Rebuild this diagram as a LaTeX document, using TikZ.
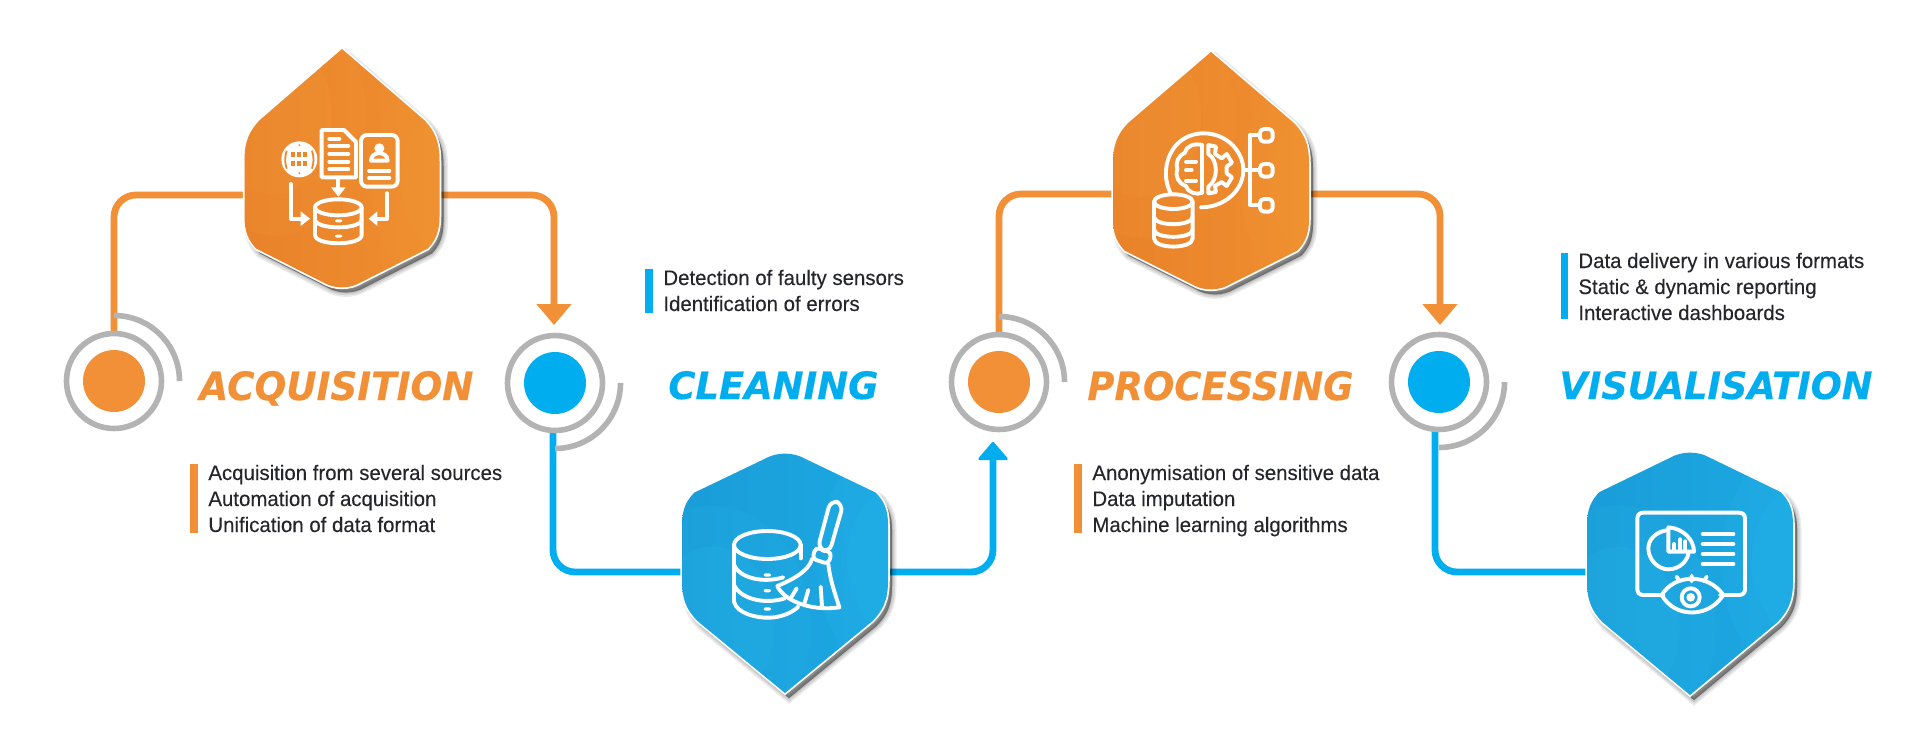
\documentclass[tikz,border=0pt]{standalone}
\usepackage{fontspec}
\usepackage{graphicx}
\setmainfont{Liberation Sans}
\newfontfamily\bodyfont[FakeStretch=0.972,FakeBold=0.15]{Liberation Sans}
\newfontfamily\ttlfont[BoldItalicFeatures={FakeBold=0.35}]{DejaVu Sans}
\usetikzlibrary{arrows.meta}
\definecolor{cor}{HTML}{F29038}
\definecolor{cbl}{HTML}{00AEEF}
\definecolor{cgr}{HTML}{B3B3B3}
\definecolor{ctx}{HTML}{25262B}
\definecolor{hoa}{HTML}{E9822A}
\definecolor{hob}{HTML}{EF8E2F}
\definecolor{hoc}{HTML}{F7A23F}
\definecolor{hba}{HTML}{1A9DD8}
\definecolor{hbb}{HTML}{1CA8E2}
\definecolor{hbc}{HTML}{30C4F5}
\definecolor{holeo}{HTML}{EC872C}
\newlength{\pxu}\setlength{\pxu}{0.5pt}
\def\hexpath{(0,0) -- (.85,.30) .. controls (.95,.345) and (1,.385) .. (1,.47) -- (1,.70) .. controls (1,.765) and (.96,.80) .. (.88,.835) -- (.20,.975) .. controls (.08,1.005) and (-.08,1.005) .. (-.20,.975) -- (-.88,.835) .. controls (-.96,.80) and (-1,.765) .. (-1,.70) -- (-1,.47) .. controls (-1,.385) and (-.95,.345) .. (-.85,.30) -- cycle}
% #1 cx, #2 tip y, #3 half width, #4 signed height, #5 #6 colours, #7 wave colour
\newcommand{\hexa}[7]{%
  \begin{scope}[shift={(#1+4,#2+5)},xscale=#3,yscale=#4]
    \foreach \lw in {9,6,3,1}{\draw[line width=\lw*\pxu,black,draw opacity=.08,fill opacity=.12,fill=black] \hexpath;}
  \end{scope}
  \begin{scope}[shift={(#1,#2)},xscale=#3,yscale=#4]
    \draw[white,line width=3.5*\pxu,fill=white] \hexpath;
    \shade[shading angle=60,left color=#5,right color=#6] \hexpath;
    \begin{scope}
      \clip \hexpath;
      \fill[#7,opacity=.10] (1.15,.55) ellipse [x radius=.85,y radius=.5];
      \fill[#7,opacity=.10] (1.15,.55) ellipse [x radius=.55,y radius=.32];
      \fill[#7,opacity=.10] (-.7,.28) ellipse [x radius=.95,y radius=.5];
      \fill[#7,opacity=.12] (-.7,.28) ellipse [x radius=.6,y radius=.33];
    \end{scope}
  \end{scope}}
\tikzset{
  x=0.5pt,y=-0.5pt,
  connor/.style={draw=cor,line width=3.4pt,rounded corners=11pt},
  connbl/.style={draw=cbl,line width=3.4pt,rounded corners=11pt},
  ring/.style={circle,draw=cgr,line width=2.8pt,minimum size=95*\pxu,inner sep=0pt,fill=white},
  arcline/.style={draw=cgr,line width=2.8pt},
  discor/.style={circle,fill=cor,minimum size=62*\pxu,inner sep=0pt},
  discbl/.style={circle,fill=cbl,minimum size=62*\pxu,inner sep=0pt},
  body/.style={anchor=base west,inner sep=0pt,font=\bodyfont\fontsize{10.5pt}{13pt}\selectfont,text=ctx},
  ttl/.style={anchor=base west,inner sep=0pt},
  barbox/.style={fill=#1,draw=none},
  ic/.style={white,line width=1.95pt,line cap=round,line join=round},
}
\newcommand{\ttltxt}[3]{\resizebox{#1\pxu}{#2\pxu}{\ttlfont\bfseries\itshape #3}}
\begin{document}
\begin{tikzpicture}
\useasboundingbox (0,0) rectangle (1920,728);
\fill[white] (0,0) rectangle (1920,728);
% anchors
\coordinate (h1l) at (260,195); \coordinate (h1r) at (420,195);
\coordinate (h2l) at (700,572); \coordinate (h2r) at (870,572);
\coordinate (h3l) at (1130,194); \coordinate (h3r) at (1290,194);
\coordinate (h4l) at (1610,572);
% connectors
\coordinate (c1top) at (114,340); \coordinate (c2tip) at (554,325);
\coordinate (c2bot) at (553,425); \coordinate (c3tip) at (993,442);
\coordinate (c3top) at (999,340); \coordinate (c4tip) at (1440,325);
\coordinate (c4bot) at (1435,425);
\draw[connor] (c1top) |- (h1l);
\draw[connor,-{Triangle[width=17pt,length=10.5pt]}] (h1r) -| (c2tip);
\draw[connbl] (c2bot) |- (h2l);
\draw[connbl,-{Triangle[width=16pt,length=9.5pt,round,line width=1.4pt]}] (h2r) -| (c3tip);
\draw[connor] (c3top) |- (h3l);
\draw[connor,-{Triangle[width=17pt,length=10.5pt]}] (h3r) -| (c4tip);
\draw[connbl] (c4bot) |- (h4l);
% hexagons
\hexa{342}{49}{97.5}{239}{hoa}{hob}{hoc}
\hexa{785}{693}{103}{-240}{hba}{hbb}{hbc}
\hexa{1211}{52}{98}{238}{hoa}{hob}{hoc}
\hexa{1690}{695}{103}{-243}{hba}{hbb}{hbc}
% rings and discs
\coordinate (a1) at (114,381); \coordinate (a2) at (555,383);
\coordinate (a3) at (999,382); \coordinate (a4) at (1439,382);
\draw[arcline] (a1) ++(0,-65.5) arc[start angle=-90,end angle=0,radius=65.5];
\draw[arcline] (a2) ++(65.5,0) arc[start angle=0,end angle=90,radius=65.5];
\draw[arcline] (a3) ++(0,-65.5) arc[start angle=-90,end angle=0,radius=65.5];
\draw[arcline] (a4) ++(65.5,0) arc[start angle=0,end angle=90,radius=65.5];
\node[ring] (r1) at (a1) {}; \node[discor] (d1) at (a1) {};
\node[ring] (r2) at (a2) {}; \node[discbl] (d2) at (a2) {};
\node[ring] (r3) at (a3) {}; \node[discor] (d3) at (a3) {};
\node[ring] (r4) at (a4) {}; \node[discbl] (d4) at (a4) {};
% titles
\node[ttl,text=cor] (tt1) at (199,400) {\ttltxt{274}{29}{ACQUISITION}};
\node[ttl,text=cbl] (tt2) at (668,399) {\ttltxt{210}{28}{CLEANING}};
\node[ttl,text=cor] (tt3) at (1087,400) {\ttltxt{266}{29}{PROCESSING}};
\node[ttl,text=cbl] (tt4) at (1559,399) {\ttltxt{313}{28}{VISUALISATION}};
% bars
\fill[barbox=cor] (190,464) rectangle (198,533);
\fill[barbox=cbl] (645,269) rectangle (653,313);
\fill[barbox=cor] (1074,464) rectangle (1082,533);
\fill[barbox=cbl] (1561,253) rectangle (1568,319);
% body text
\node[body] (b11) at (208,480) {Acquisition from several sources};
\node[body] (b12) at (208,506) {Automation of acquisition};
\node[body] (b13) at (208,532) {Unification of data format};
\node[body] (b21) at (663,285) {Detection of faulty sensors};
\node[body] (b22) at (663,311) {Identification of errors};
\node[body] (b31) at (1092,480) {Anonymisation of sensitive data};
\node[body] (b32) at (1092,506) {Data imputation};
\node[body] (b33) at (1092,532) {Machine learning algorithms};
\node[body] (b41) at (1578,268) {Data delivery in various formats};
\node[body] (b42) at (1578,294) {Static \& dynamic reporting};
\node[body] (b43) at (1578,320) {Interactive dashboards};
% icon 1
\begin{scope}[shift={(270,120)},scale=1/3]
  \fill[white] (88,118) circle[radius=54];
  \foreach \xx in {70,88,106}\foreach \yy in {104,130}{\fill[holeo] (\xx-6,\yy-8) rectangle (\xx+6,\yy+8);}
  \draw[holeo,line width=.9pt] (50,92) .. controls (44,110) and (44,128) .. (50,146) (126,92) .. controls (132,110) and (132,128) .. (126,146) (86,76) -- (90,76) (86,160) -- (90,160);
  \draw[ic] (155,30) -- (222,30) -- (258,66) -- (258,172) -- (155,172) -- cycle;
  \draw[ic] (178,56) -- (208,56) (178,78) -- (235,78) (178,102) -- (235,102) (178,125) -- (235,125) (178,148) -- (235,148);
  \draw[ic,rounded corners=3pt] (273,45) rectangle (383,200);
  \fill[white] (328,85) circle[radius=15];
  \draw[ic] (303,122) .. controls (303,92) and (353,92) .. (353,122) -- cycle;
  \draw[ic] (297,152) -- (358,152) (297,174) -- (358,174);
  \draw[ic] (205,178) -- (205,210);
  \fill[white] (183,202) -- (227,202) -- (205,230) -- cycle;
  \draw[ic] (62,192) -- (62,296) -- (95,296);
  \fill[white] (92,274) -- (92,318) -- (120,296) -- cycle;
  \draw[ic] (350,220) -- (350,296) -- (320,296);
  \fill[white] (322,274) -- (322,318) -- (296,296) -- cycle;
  \draw[ic] (205,262) ellipse[x radius=70,y radius=24];
  \draw[ic] (135,262) -- (135,345) .. controls (135,378) and (275,378) .. (275,345) -- (275,262);
  \draw[ic] (135,298) .. controls (135,330) and (275,330) .. (275,298);
  \fill[white,rounded corners=1pt] (195,298) rectangle (217,307);
  \fill[white,rounded corners=1pt] (195,344) rectangle (217,353);
\end{scope}
% icon 2
\begin{scope}[shift={(720,490)},scale=1/3]
  \draw[ic] (142,165) ellipse[x radius=100,y radius=42];
  \draw[ic] (42,165) -- (42,335) .. controls (50,370) and (110,385) .. (150,383) .. controls (180,382) and (215,370) .. (235,350);
  \draw[ic] (242,165) -- (242,205);
  \draw[ic] (42,225) .. controls (60,265) and (130,280) .. (190,262);
  \draw[ic] (42,285) .. controls (60,325) and (130,345) .. (195,325);
  \fill[white,rounded corners=1pt] (131,250) rectangle (153,260);
  \fill[white,rounded corners=1pt] (131,297) rectangle (153,307);
  \fill[white,rounded corners=1pt] (131,352) rectangle (153,362);
  \draw[ic,rounded corners=4pt] (332,30) -- (370,42) -- (328,188) -- (293,176) -- cycle;
  \draw[ic,rounded corners=2pt] (287,172) -- (335,188) -- (325,222) -- (277,206) -- cycle;
  \draw[ic] (277,206) .. controls (265,245) and (215,270) .. (172,288) .. controls (190,330) and (270,365) .. (358,352) .. controls (345,310) and (330,270) .. (325,222);
  \draw[ic] (230,295) -- (212,325) (265,300) -- (252,345) (302,290) -- (306,350);
\end{scope}
% icon 3
\begin{scope}[shift={(1080,30)},scale=1/3]
  \draw[ic] (272,490) .. controls (235,420) and (270,310) .. (372,310) .. controls (440,310) and (490,365) .. (490,420) .. controls (490,480) and (435,532) .. (362,532);
  \draw[ic] (280,515) ellipse[x radius=58,y radius=22];
  \draw[ic] (222,515) -- (222,625) .. controls (222,658) and (338,658) .. (338,625) -- (338,515);
  \draw[ic] (222,560) .. controls (222,590) and (338,590) .. (338,560);
  \draw[ic] (222,598) .. controls (222,628) and (338,628) .. (338,598);
  % brain, left half
  \draw[ic] (367,345) -- (367,488);
  \draw[ic] (367,345) .. controls (345,340) and (320,345) .. (315,368) .. controls (295,375) and (285,400) .. (292,418) .. controls (285,440) and (295,460) .. (318,468) .. controls (325,490) and (350,495) .. (367,488);
  \draw[ic] (318,395) -- (348,395) (318,420) -- (335,420) (318,452) -- (348,452);
  % gear, right half
  \draw[ic] (385,345) -- (408,350) -- (405,372) -- (425,385) -- (440,372) -- (456,398) -- (440,410) -- (440,430) -- (456,442) -- (440,468) -- (425,456) -- (405,468) -- (408,486) -- (385,490) -- (385,470) .. controls (415,450) and (415,390) .. (385,372) -- cycle;
  % tree
  \draw[ic] (490,420) -- (540,420) (510,315) -- (510,525) (510,315) -- (540,315) (510,525) -- (540,525);
  \draw[ic,rounded corners=2pt] (540,297) rectangle (578,335);
  \draw[ic,rounded corners=2pt] (540,402) rectangle (578,440);
  \draw[ic,rounded corners=2pt] (540,507) rectangle (578,545);
\end{scope}
% icon 4
\begin{scope}[shift={(1560,440)},scale=1/3]
  \draw[ic] (310,465) -- (250,465) .. controls (238,465) and (232,458) .. (232,448) -- (232,236) .. controls (232,225) and (238,218) .. (250,218) -- (537,218) .. controls (549,218) and (555,225) .. (555,236) -- (555,448) .. controls (555,458) and (549,465) .. (537,465) -- (480,465);
  \draw[ic] (305,465) .. controls (345,400) and (445,400) .. (490,465) .. controls (445,535) and (345,535) .. (305,465) -- cycle;
  \draw[ic] (392,472) circle[radius=27];
  \fill[white] (392,472) circle[radius=13];
  \draw[ic] (350,410) -- (358,424) (395,407) -- (395,424) (440,410) -- (432,424);
  \draw[ic] (325,270) .. controls (285,275) and (265,300) .. (265,325) .. controls (265,360) and (295,388) .. (325,388) .. controls (360,388) and (385,360) .. (386,335);
  \draw[ic] (325,262) -- (325,335) -- (402,335) .. controls (402,300) and (370,265) .. (325,262) -- cycle;
  \draw[ic] (342,330) -- (342,312) (360,330) -- (360,298) (376,330) -- (376,304);
  \draw[ic] (428,282) -- (520,282) (428,312) -- (520,312) (428,342) -- (520,342) (428,372) -- (520,372);
\end{scope}
\end{tikzpicture}
\end{document}
